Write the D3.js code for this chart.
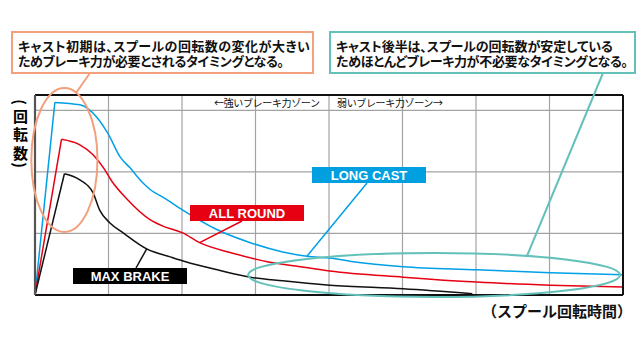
<!DOCTYPE html>
<html>
<head>
<meta charset="utf-8">
<script src="https://cdn.jsdelivr.net/npm/d3@7/dist/d3.min.js"></script>
<style>
  html, body { margin: 0; padding: 0; background: #fff; }
  svg { display: block; }
  .jp { font-family: "Noto Sans CJK JP", "Noto Sans", sans-serif; }
  .en { font-family: "Liberation Sans", Arial, sans-serif; }
</style>
</head>
<body>
<svg id="chart" width="641" height="339"></svg>
<script>
// Spool speed over time for the three brake settings (arbitrary units)
const longCastTime = [0, 0.27, 0.61, 0.84, 0.99, 1.16, 1.29, 1.47, 1.57, 1.74, 2.01, 2.48, 2.93, 3.37, 3.70, 4.01, 4.33, 5.01, 6.01, 7.01, 8];
const longCastRpm  = [0, 3.13, 3.09, 2.89, 2.63, 2.24, 2.07, 1.82, 1.71, 1.59, 1.38, 1.06, 0.85, 0.70, 0.63, 0.60, 0.54, 0.46, 0.41, 0.36, 0.33];

const allRoundTime = [0, 0.36, 0.61, 0.79, 0.93, 1.05, 1.25, 1.57, 1.74, 2.01, 2.24, 2.69, 3.16, 3.61, 4.01, 5.01, 6.01, 7.01, 8];
const allRoundRpm  = [0, 2.53, 2.44, 2.28, 2.07, 1.84, 1.56, 1.22, 1.12, 1.01, 0.85, 0.68, 0.54, 0.46, 0.39, 0.29, 0.21, 0.16, 0.13];

const maxBrakeTime = [0, 0.40, 0.61, 0.79, 0.88, 1.02, 1.20, 1.52, 1.84, 2.05, 2.48, 2.93, 3.37, 4.01, 5.01, 5.95];
const maxBrakeRpm  = [0, 1.97, 1.87, 1.66, 1.38, 1.17, 1.01, 0.75, 0.62, 0.54, 0.41, 0.29, 0.23, 0.16, 0.10, 0.02];

const seriesNames = ["LONG CAST", "ALL ROUND", "MAX BRAKE"];
const timeGrid = [1, 2, 3, 4, 5, 6, 7];
const rpmGrid = [1, 2, 3];

const zoneLabels = ["←強いブレーキ力ゾーン", "弱いブレーキ力ゾーン→"];
const yTitleChars = ["回", "転", "数"];
const xTitle = "（スプール回転時間）";
const earlyNote = ["キャスト初期は、スプールの回転数の変化が大きい", "ためブレーキ力が必要とされるタイミングとなる。"];
const lateNote = ["キャスト後半は、スプールの回転数が安定している", "ためほとんどブレーキ力が不必要なタイミングとなる。"];

const svg = d3.select("#chart");
const plot = { left: 35, right: 623, top: 95, bottom: 295 };

const x = d3.scaleLinear().domain([0, 8]).range([plot.left, plot.right]);
const y = d3.scaleLinear().domain([0, 3.25]).range([plot.bottom, plot.top]);

const BLUE = "#00a0e6", RED = "#e60012", BLACK = "#111";
const ORANGE = "#f3a07d", TEAL = "#63c1ba";

// grid
const grid = svg.append("g").attr("stroke", "#a3a3a3").attr("stroke-width", 1.2);
grid.selectAll(".vx").data(timeGrid).join("line")
  .attr("x1", d => x(d)).attr("x2", d => x(d))
  .attr("y1", plot.top).attr("y2", plot.bottom);
grid.selectAll(".hy").data(rpmGrid).join("line")
  .attr("x1", plot.left).attr("x2", plot.right)
  .attr("y1", d => y(d)).attr("y2", d => y(d));

// curves: straight spin-up to the peak, then a smooth decay
const series = [
  { name: seriesNames[0], t: longCastTime, v: longCastRpm, color: BLUE },
  { name: seriesNames[1], t: allRoundTime, v: allRoundRpm, color: RED },
  { name: seriesNames[2], t: maxBrakeTime, v: maxBrakeRpm, color: BLACK }
];
const rise = d3.line().x(d => x(d[0])).y(d => y(d[1]));
const decay = d3.line().x(d => x(d[0])).y(d => y(d[1])).curve(d3.curveMonotoneX);
series.forEach(s => {
  const pts = s.t.map((t, i) => [t, s.v[i]]);
  svg.append("path").attr("d", rise(pts.slice(0, 2)))
    .attr("fill", "none").attr("stroke", s.color).attr("stroke-width", 1.5);
  svg.append("path").attr("d", decay(pts.slice(1)))
    .attr("fill", "none").attr("stroke", s.color).attr("stroke-width", 1.5)
    .attr("stroke-linejoin", "round");
});

// frame
svg.append("line").attr("x1", plot.left).attr("x2", plot.right).attr("y1", plot.top).attr("y2", plot.top)
  .attr("stroke", "#111").attr("stroke-width", 2);
svg.append("line").attr("x1", plot.right).attr("x2", plot.right).attr("y1", plot.top).attr("y2", plot.bottom)
  .attr("stroke", "#111").attr("stroke-width", 2);
svg.append("line").attr("x1", plot.left).attr("x2", plot.right).attr("y1", plot.bottom).attr("y2", plot.bottom)
  .attr("stroke", "#111").attr("stroke-width", 2);
svg.append("line").attr("x1", plot.left).attr("x2", plot.left).attr("y1", plot.top).attr("y2", plot.bottom)
  .attr("stroke", "#555").attr("stroke-width", 2.2);

// brake zone captions
svg.append("text").attr("class", "jp").attr("x", x(4) - 9).attr("y", plot.top + 12)
  .attr("text-anchor", "end").attr("font-size", 10).attr("fill", "#111")
  .attr("textLength", 106).attr("lengthAdjust", "spacing").text(zoneLabels[0]);
svg.append("text").attr("class", "jp").attr("x", x(4) + 8).attr("y", plot.top + 12)
  .attr("font-size", 10).attr("fill", "#111")
  .attr("textLength", 106).attr("lengthAdjust", "spacing").text(zoneLabels[1]);

// axis titles
const yTitleX = 20.5;
svg.append("text").attr("class", "jp").attr("font-size", 15).attr("font-weight", "bold")
  .attr("text-anchor", "middle").attr("dominant-baseline", "central")
  .attr("transform", `translate(${yTitleX},102) rotate(90)`).text("(");
svg.selectAll(".ych").data(yTitleChars).join("text")
  .attr("class", "jp").attr("font-size", 15).attr("font-weight", "bold")
  .attr("text-anchor", "middle").attr("dominant-baseline", "central")
  .attr("x", yTitleX).attr("y", (d, i) => 115 + i * 18.5).text(d => d);
svg.append("text").attr("class", "jp").attr("font-size", 15).attr("font-weight", "bold")
  .attr("text-anchor", "middle").attr("dominant-baseline", "central")
  .attr("transform", `translate(${yTitleX},165) rotate(90)`).text(")");

svg.append("text").attr("class", "jp").attr("x", 632).attr("y", 310)
  .attr("text-anchor", "end").attr("dominant-baseline", "central")
  .attr("font-size", 15).attr("font-weight", "bold").attr("fill", "#111").text(xTitle);

// highlight ellipses
const ellipses = [
  { cx: 0.40, cy: 2.195, rx: 0.45, ry: 1.17, color: ORANGE },
  { cx: 5.43, cy: 0.325, rx: 2.53, ry: 0.358, color: TEAL }
];
svg.selectAll(".hl").data(ellipses).join("ellipse")
  .attr("cx", d => x(d.cx)).attr("cy", d => y(d.cy))
  .attr("rx", d => x(d.rx) - x(0)).attr("ry", d => y(0) - y(d.ry))
  .attr("fill", "none").attr("stroke", d => d.color).attr("stroke-width", 2);

// series labels with leaders to a point on each curve
const labels = [
  { s: series[0], idx: 14, box: [312, 167, 114, 16], foot: [367, 183] },
  { s: series[1], idx: 10, box: [190, 205, 114, 16], foot: [242, 221] },
  { s: series[2], idx: 7, box: [73, 268, 114, 16], foot: [136, 268] }
];
labels.forEach(l => {
  const tx = x(l.s.t[l.idx]), ty = y(l.s.v[l.idx]);
  svg.append("line").attr("x1", l.foot[0]).attr("y1", l.foot[1]).attr("x2", tx).attr("y2", ty)
    .attr("stroke", l.s.color).attr("stroke-width", 1.5);
  svg.append("rect").attr("x", l.box[0]).attr("y", l.box[1]).attr("width", l.box[2]).attr("height", l.box[3])
    .attr("fill", l.s.color === BLUE ? "#00a0e0" : l.s.color === RED ? "#e60012" : "#000");
  svg.append("text").attr("class", "en").attr("x", l.box[0] + l.box[2] / 2).attr("y", l.box[1] + l.box[3] / 2 + 0.5)
    .attr("text-anchor", "middle").attr("dominant-baseline", "central")
    .attr("font-size", 13).attr("font-weight", "bold").attr("fill", "#fff").text(l.s.name);
});

// callouts
function callout(lines, box, color, lengths, leader) {
  svg.append("line").attr("x1", leader[0]).attr("y1", leader[1]).attr("x2", leader[2]).attr("y2", leader[3])
    .attr("stroke", color).attr("stroke-width", 2);
  svg.append("rect").attr("x", box[0]).attr("y", box[1]).attr("width", box[2]).attr("height", box[3])
    .attr("fill", "#fff").attr("stroke", color).attr("stroke-width", 2);
  lines.forEach((t, i) => {
    svg.append("text").attr("class", "jp").attr("x", box[0] + 6).attr("y", box[1] + 13.5 + i * 15)
      .attr("dominant-baseline", "central").attr("font-size", 13).attr("font-weight", "bold")
      .attr("fill", "#111").style("font-feature-settings", "'palt'")
      .attr("textLength", lengths[i]).attr("lengthAdjust", "spacing").text(t);
  });
}
callout(earlyNote, [12, 32, 301, 41], ORANGE, [292, 266], [90, 73, 76, 93]);
callout(lateNote, [330, 32, 305, 41], TEAL, [277, 292], [603, 73, 527, 256]);
</script>
</body>
</html>
